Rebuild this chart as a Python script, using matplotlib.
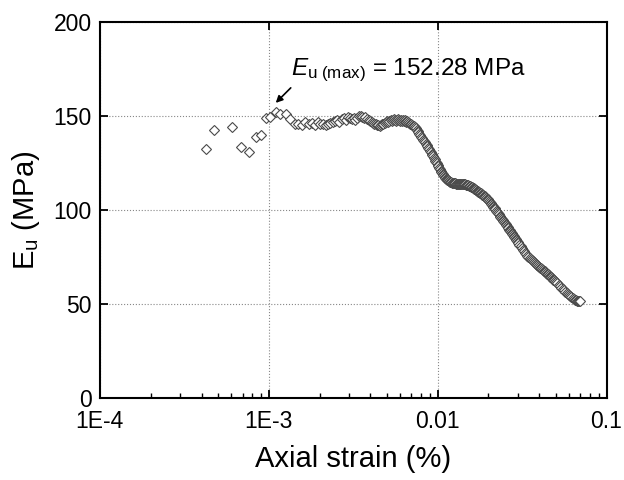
import matplotlib.pyplot as plt
from matplotlib.ticker import FixedLocator, LogLocator, NullFormatter

plt.rcParams['font.family'] = ['Liberation Sans', 'DejaVu Sans']
plt.rcParams['mathtext.fontset'] = 'custom'
plt.rcParams['mathtext.rm'] = 'Liberation Sans'
plt.rcParams['mathtext.it'] = 'Liberation Sans:italic'

# axial strain (%) and secant modulus Eu (MPa)
strain = [4.25e-4, 4.75e-4, 6.03e-4, 6.87e-4, 7.63e-4, 8.35e-4, 9.0e-4, 9.64e-4,
          1.02e-3, 1.10e-3, 1.17e-3, 1.26e-3, 1.34e-3, 1.44e-3,
          1.5e-3, 1.57e-3, 1.65e-3, 1.72e-3, 1.8e-3, 1.88e-3, 1.95e-3, 2.02e-3,
          2.1e-3, 2.18e-3, 2.25e-3, 2.32e-3, 2.4e-3, 2.47e-3, 2.55e-3, 2.62e-3,
          2.7e-3, 2.78e-3, 2.86e-3, 2.94e-3, 3.02e-3, 3.1e-3, 3.18e-3, 3.26e-3,
          3.34e-3, 3.42e-3, 3.5e-3, 3.58e-3, 3.66e-3, 3.74e-3, 3.82e-3, 3.9e-3,
          3.98e-3, 4.06e-3, 4.14e-3, 4.22e-3, 4.3e-3, 4.38e-3, 4.46e-3, 4.54e-3,
          4.62e-3, 4.7e-3, 4.78e-3, 4.86e-3, 4.94e-3, 5.02e-3, 5.1e-3, 5.18e-3,
          5.26e-3, 5.34e-3, 5.42e-3, 5.5e-3, 5.58e-3, 5.66e-3, 5.74e-3, 5.82e-3,
          5.9e-3, 5.98e-3, 6.06e-3, 6.14e-3, 6.22e-3, 6.3e-3, 6.38e-3, 6.46e-3,
          6.54e-3, 6.62e-3, 6.7e-3, 6.78e-3, 6.86e-3, 6.94e-3, 7.02e-3,
          7.1e-3, 7.2e-3, 7.3e-3, 7.4e-3, 7.5e-3, 7.6e-3, 7.7e-3, 7.8e-3, 7.9e-3,
          8.0e-3, 8.1e-3, 8.2e-3, 8.3e-3, 8.4e-3, 8.5e-3, 8.6e-3, 8.7e-3, 8.8e-3,
          8.9e-3, 9.0e-3, 9.1e-3, 9.2e-3, 9.3e-3, 9.4e-3, 9.5e-3, 9.6e-3, 9.7e-3,
          9.8e-3, 9.9e-3, 1.0e-2, 1.01e-2, 1.02e-2, 1.03e-2, 1.04e-2, 1.05e-2,
          1.06e-2, 1.07e-2, 1.08e-2, 1.09e-2, 1.1e-2, 1.11e-2, 1.12e-2, 1.13e-2,
          1.14e-2, 1.15e-2, 1.16e-2, 1.17e-2, 1.18e-2, 1.19e-2, 1.2e-2, 1.215e-2,
          1.23e-2, 1.245e-2, 1.26e-2, 1.275e-2, 1.29e-2, 1.305e-2, 1.32e-2,
          1.335e-2, 1.35e-2, 1.365e-2, 1.38e-2, 1.395e-2, 1.41e-2, 1.425e-2,
          1.44e-2, 1.455e-2, 1.47e-2, 1.485e-2, 1.5e-2, 1.515e-2, 1.53e-2,
          1.545e-2, 1.56e-2, 1.575e-2, 1.59e-2, 1.605e-2, 1.62e-2, 1.635e-2,
          1.65e-2, 1.665e-2, 1.68e-2, 1.695e-2, 1.71e-2, 1.725e-2, 1.74e-2,
          1.755e-2, 1.77e-2, 1.785e-2, 1.8e-2, 1.82e-2, 1.84e-2, 1.86e-2, 1.88e-2,
          1.9e-2, 1.92e-2, 1.94e-2, 1.96e-2, 1.98e-2, 2.0e-2, 2.02e-2, 2.04e-2,
          2.06e-2, 2.08e-2, 2.1e-2, 2.12e-2, 2.14e-2, 2.16e-2, 2.18e-2, 2.2e-2,
          2.225e-2, 2.25e-2, 2.275e-2, 2.3e-2, 2.325e-2, 2.35e-2, 2.375e-2, 2.4e-2,
          2.425e-2, 2.45e-2, 2.475e-2, 2.5e-2, 2.525e-2, 2.55e-2, 2.575e-2, 2.6e-2,
          2.625e-2, 2.65e-2, 2.675e-2, 2.7e-2, 2.725e-2, 2.75e-2, 2.775e-2, 2.8e-2,
          2.825e-2, 2.85e-2, 2.875e-2, 2.9e-2, 2.925e-2, 2.95e-2, 2.975e-2, 3.0e-2,
          3.05e-2, 3.1e-2, 3.15e-2, 3.2e-2, 3.25e-2, 3.3e-2, 3.35e-2, 3.4e-2,
          3.45e-2, 3.5e-2, 3.55e-2, 3.6e-2, 3.65e-2, 3.7e-2, 3.75e-2, 3.8e-2,
          3.85e-2, 3.9e-2, 3.95e-2, 4.0e-2, 4.05e-2, 4.1e-2, 4.15e-2, 4.2e-2,
          4.25e-2, 4.3e-2, 4.35e-2, 4.4e-2, 4.45e-2, 4.5e-2, 4.55e-2, 4.6e-2,
          4.65e-2, 4.7e-2, 4.75e-2, 4.8e-2, 4.85e-2, 4.9e-2, 4.95e-2, 5.0e-2,
          5.1e-2, 5.2e-2, 5.3e-2, 5.4e-2, 5.5e-2, 5.6e-2, 5.7e-2, 5.8e-2,
          5.9e-2, 6.0e-2, 6.1e-2, 6.2e-2, 6.3e-2, 6.4e-2, 6.5e-2, 6.6e-2,
          6.7e-2, 6.8e-2, 6.9e-2, 7.0e-2]

eu = [132.3, 142.6, 144.0, 133.7, 131.0, 139.0, 139.9, 148.8,
      149.6, 152.3, 151.0, 151.0, 148.2, 145.7,
      146.0, 145.0, 147.0, 145.5, 146.5, 145.0, 147.0, 145.5,
      146.0, 145.0, 145.5, 146.5, 147.0, 147.5, 148.0, 147.0,
      148.5, 149.0, 148.0, 149.5, 149.0, 148.5, 149.0, 148.0,
      149.0, 150.0, 150.0, 149.5, 149.0, 149.5, 148.5, 148.0,
      147.5, 147.0, 146.5, 146.0, 145.5, 145.0, 145.0, 144.5,
      145.0, 145.5, 146.0, 146.5, 147.0, 147.5, 147.0, 147.5,
      148.0, 147.5, 148.0, 148.5, 148.0, 147.5, 148.0, 148.5,
      148.0, 147.5, 148.0, 147.5, 148.0, 147.5, 148.0, 147.5,
      147.0, 147.5, 147.0, 146.5, 146.0, 145.5, 145.0,
      144.8, 144.5, 144.0, 143.5, 142.8, 142.0, 141.3, 140.5, 139.8,
      139.0, 138.3, 137.5, 136.8, 136.0, 135.3, 134.5, 133.8, 133.0,
      132.3, 131.5, 130.8, 130.0, 129.3, 128.5, 127.8, 127.0, 126.3,
      125.5, 124.8, 124.0, 123.3, 122.5, 121.8, 121.0, 120.3,
      119.5, 119.0, 118.5, 118.0, 117.5, 117.0, 116.5, 116.3,
      116.0, 115.8, 115.5, 115.3, 115.0, 114.9, 114.8, 114.6,
      114.5, 114.4, 114.3, 114.2, 114.0, 113.9, 113.8,
      113.9, 114.0, 113.9, 113.8, 113.8, 113.7, 113.7,
      113.6, 113.6, 113.5, 113.4, 113.3, 113.2, 113.0,
      112.9, 112.7, 112.5, 112.3, 112.1, 111.8, 111.6,
      111.3, 111.1, 110.8, 110.6, 110.3, 110.1, 109.8,
      109.6, 109.3, 109.1, 108.8, 108.5, 108.2, 107.8, 107.5,
      107.2, 106.8, 106.4, 106.0, 105.6, 105.2, 104.8, 104.3,
      103.8, 103.3, 102.8, 102.3, 101.8, 101.3, 100.8, 100.3,
      99.6, 99.0, 98.3, 97.7, 97.0, 96.4, 95.8, 95.2,
      94.6, 94.0, 93.5, 92.9, 92.4, 91.8, 91.3, 90.7,
      90.2, 89.6, 89.1, 88.6, 88.1, 87.6, 87.1, 86.6,
      86.1, 85.6, 85.1, 84.6, 84.1, 83.6, 83.1, 82.6,
      81.6, 80.7, 79.8, 78.9, 78.0, 77.2, 76.4, 75.7,
      75.0, 74.4, 73.8, 73.3, 72.8, 72.3, 71.8, 71.3,
      70.9, 70.5, 70.1, 69.7, 69.3, 68.9, 68.5, 68.1,
      67.7, 67.3, 66.9, 66.5, 66.1, 65.7, 65.3, 64.9,
      64.5, 64.1, 63.7, 63.3, 62.9, 62.5, 62.1, 61.7,
      60.9, 60.1, 59.4, 58.6, 57.9, 57.2, 56.5, 55.8,
      55.2, 54.6, 54.0, 53.5, 53.0, 52.6, 52.2, 51.9,
      51.7, 51.6, 51.5, 51.4]

peak_strain = 1.10e-3
peak_eu = 152.28

fig = plt.figure(figsize=(6.24, 4.8), dpi=100)
ax = fig.add_axes([0.160, 0.171, 0.812, 0.783])

ax.plot(strain, eu, linestyle='none', marker='D', markersize=5.5,
        markerfacecolor='white', markeredgecolor='#4a4a4a', markeredgewidth=0.8)

ax.set_xscale('log')
ax.set_xlim(1e-4, 0.1)
ax.set_ylim(0, 200)

ax.xaxis.set_major_locator(FixedLocator([1e-4, 1e-3, 1e-2, 1e-1]))
ax.set_xticklabels(['1E-4', '1E-3', '0.01', '0.1'])
ax.xaxis.set_minor_locator(LogLocator(base=10, subs=range(2, 10)))
ax.xaxis.set_minor_formatter(NullFormatter())
ax.set_yticks([0, 50, 100, 150, 200])

ax.grid(True, which='major', linestyle=':', color='#888888', linewidth=0.8)

ax.tick_params(which='major', direction='in', length=6, width=1.3,
               labelsize=16.5, top=True, right=True)
ax.tick_params(axis='x', which='major', pad=9)
ax.tick_params(axis='y', which='major', pad=6)
ax.tick_params(which='minor', direction='in', length=3.5, width=1.0,
               top=False, right=False)
for s in ax.spines.values():
    s.set_linewidth(1.5)

ax.set_xlabel('Axial strain (%)', fontsize=21, labelpad=8)
ax.set_ylabel(r'E$_\mathrm{u}$ (MPa)', fontsize=21, labelpad=8)

ax.annotate('', xy=(peak_strain, 157), xytext=(1.35e-3, 165),
            arrowprops=dict(arrowstyle='-|>', color='black', lw=1.2,
                            mutation_scale=10, shrinkA=0, shrinkB=0))
ax.text(1.35e-3, 172, r'$E_{\mathrm{u\ (max)}}$ = %.2f MPa' % peak_eu,
        fontsize=17.5, ha='left', va='baseline')

fig.savefig('out.png', dpi=100)
